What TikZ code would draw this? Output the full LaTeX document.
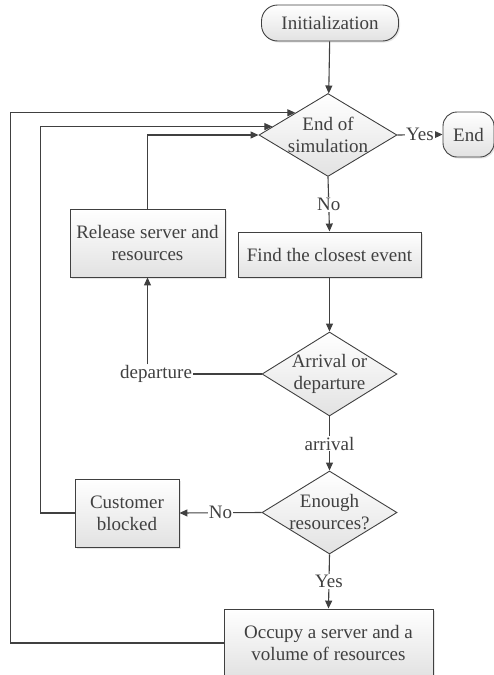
\documentclass[tikz,border=0pt]{standalone}
\usepackage{fontspec}
\setmainfont{Liberation Serif}[Ligatures=TeX]
\usetikzlibrary{arrows.meta}
\usetikzlibrary{shapes.geometric}
\usetikzlibrary{shadows}
\usetikzlibrary{calc}
\definecolor{line_grau}{HTML}{404040}
\definecolor{fill_grau}{HTML}{E2E2E2}

\tikzset{
  box/.style={draw=line_grau, line width=0.9pt, rectangle, align=center, top color=white, bottom color=fill_grau, drop shadow={opacity=0.2, shadow xshift=1.5pt, shadow yshift=-1.5pt}},
  term/.style={box, rounded corners=16pt},
  decision/.style={draw=line_grau, line width=0.9pt, diamond, inner sep=0pt, top color=white, bottom color=fill_grau},
  lbl/.style={fill=white, inner sep=1pt}
}

\begin{document}
\begin{tikzpicture}[x=1pt, y=-1pt, font=\rmfamily\fontsize{19}{22}\selectfont, >={Triangle[length=8pt, width=7pt]}, every path/.style={line width=1.1pt, line_grau}]
\useasboundingbox (0,0) rectangle (494,675);
%\draw[step=50, very thin, red] (0,0) grid (494,675);

\node[term, minimum width=137pt, minimum height=36pt] (init) at (330,23) {Initialization};
\node[decision, minimum width=138pt, minimum height=83pt, label={[align=center]center:End of\\simulation}] (eos) at (328,135) {};
\node[term, rounded corners=14pt, minimum width=51pt, minimum height=45pt] (finish) at (468.5,134.5) {End};
\node[box, minimum width=155pt, minimum height=68pt] (release) at (147.5,243) {Release server and\\resources};
\node[box, minimum width=183pt, minimum height=45pt] (find) at (329.5,254.5) {Find the closest event};
\node[decision, minimum width=135pt, minimum height=84pt, label={[align=center]center:Arrival or\\departure}] (arrdep) at (329.5,374) {};
\node[inner sep=0.5pt, anchor=east] (dep) at (193,374) {departure};
\node[decision, minimum width=135pt, minimum height=83pt, label={[align=center]center:Enough\\resources?}] (enough) at (329.5,512.5) {};
\node[box, minimum width=104pt, minimum height=68pt] (blocked) at (127,513) {Customer\\blocked};
\node[box, minimum width=209pt, minimum height=68pt] (occupy) at (328.5,643) {Occupy a server and a\\volume of resources};

\coordinate (in1) at ($(eos.west)!0.53!(eos.north)$);
\coordinate (in2) at ($(eos.west)!0.2!(eos.north)$);

\draw[->] (init) -- (eos);
\draw[->] (eos.east) -- node[lbl] (yes1) {Yes} (finish.west);
\draw[->] (eos.south) -- node[lbl] (no1) {No} (find.north);
\draw[->] (find.south) -- (arrdep.north);
\draw (arrdep.west) -- (dep.east);
\draw[->] (dep.north -| release.south) -- (release.south);
\draw[->] (release.north) |- (eos.west);
\draw[->] (arrdep.south) -- node[lbl] (arrival) {arrival} (enough.north);
\draw[->] (enough.west) -- node[lbl] (no2) {No} (blocked.east);
\draw[->] (enough.south) -- node[lbl] (yes2) {Yes} (occupy.north);
\draw[->] (blocked.west) -- ++(-34,0) |- (in2);
\draw[->] (occupy.west) -- ++(-213,0) |- (in1);
\end{tikzpicture}
\end{document}
